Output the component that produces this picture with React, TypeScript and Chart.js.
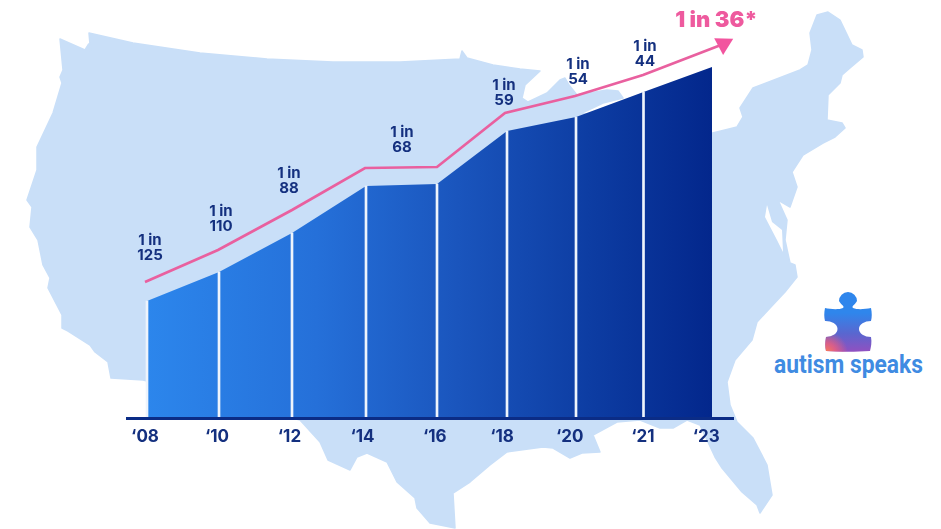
import React, { useEffect, useRef } from "react";
import { Chart, registerables } from "chart.js";

Chart.register(...registerables);

// Year labels on the axis
const years = ["‘08", "‘10", "‘12", "‘14", "‘16", "‘18", "‘20", "‘21", "‘23"];
// Axis stops of the survey years (the source axis is not evenly spaced)
const yearStops = [20, 92, 165, 239, 310, 380, 449, 516.5, 585];
const yearLabelStops = [18, 90, 162.5, 235.5, 307.7, 375, 442.7, 515.8, 579.3];
// Height of the blue area at each year
const areaValues = [117, 146, 185, 232, 234, 287, 301, 326, 351];
// Pink trend line
const trendStops = [18, 91, 165, 238, 310, 378, 448, 516, 596.5];
const trendValues = [136, 168, 208, 250, 251, 305, 322, 343, 374];
// Prevalence callouts
const calloutLines = [
  ["1 in", "125"],
  ["1 in", "110"],
  ["1 in", "88"],
  ["1 in", "68"],
  ["1 in", "59"],
  ["1 in", "54"],
  ["1 in", "44"],
];
const calloutStops = [23, 94, 162, 275, 377, 451, 518];
const calloutValues = [170.5, 199.5, 237.5, 278, 325.5, 346.5, 364.5];
const headline = "1 in 36*";
const headlineStop = 589.5;
const headlineValue = 397.5;

const NAVY = "#14307f";
const PINK = "#e9609f";
const MAP = "#c9dff8";

const mapPath =
  "M60,39 L85,50 L88.7,44 L90.7,53 L89,33 L133,43 L200,53 L267,59 L333,62 L400,62 L460,59 L462,51 L467,58 " +
  "L493,65 L520,69 L540,71 L525,85 L522,98 L528,102 L547,93 L560,80 L565,78 L569,85 L577,95 L607,90 L618,91 L623,98 " +
  "L603,103 L582,113 L650,130 L712.7,133 L737,127 L743,117 L740,108 L753,88 L800,70 L808,65 L812,50 L810,33 L817,15 " +
  "L828,12 L840,20 L852,45 L862,50 L863,57 L850,68 L842,75 L840,83 L828,95 L827,120 L842,123 L845,128 L835,137 L823,143 " +
  "L803,155 L792,172 L797,187 L790,207 L778,200 L787,220 L785,240 L790,263 L795,265 L797,277 L785,292 L770,308 L757,322 " +
  "L752,340 L735,360 L727,382 L730,405 L737,422 L753,438 L767,465 L772,495 L760,513 L757,505 L742,492 L722,468 L715,457 " +
  "L700,425 L687,420 L673,428 L660,428 L640,420 L617,422 L593,435 L600,452 L582,453 L570,458 L553,448 L543,447 L507,452 " +
  "L490,465 L470,482 L453,493 L455,528 L430,523 L417,508 L415,498 L397,482 L387,462 L367,453 L357,457 L350,470 L328,460 " +
  "L320,442 L300,420 L143,380 L111,378 L108,362 L95,352 L90,345 L68,331 L62,328 L62,315 L48,288 L50,278 L43,265 L38,240 " +
  "L30,227 L32,207 L27,200 L37,170 L37,147 L53,113 L62,83 L60,77 L63,70 Z";
const chesapeakePath = "M767,205 L765,217 L777,240 L783,252 L782,230 L772,222 Z";

const puzzlePath =
  "M825,308 C830,309 838,310 843,308 C845,306 841,305 839,301 A9,9 0 1 1 857,301 C855,305 851,306 853,308 " +
  "C858,310 865,309 871,308 C872,313 872,317 871,321 A12,8 0 0 0 871,337 " +
  "C872,342 871,347 870,351 C856,352 840,352 826,351 C825,347 825,342 826,337 " +
  "A12,8 0 0 0 825,321 C824,317 824,313 825,308 Z";

const labelsPlugin = {
  id: "calloutLabels",
  afterDatasetsDraw(chart: any) {
    const { ctx, scales } = chart;
    ctx.save();
    ctx.textAlign = "center";
    ctx.textBaseline = "middle";
    ctx.fillStyle = NAVY;
    ctx.font = "700 15px Inter";
    calloutLines.forEach((lines, i) => {
      const x = scales.x.getPixelForValue(calloutStops[i]);
      const y = scales.y.getPixelForValue(calloutValues[i]);
      ctx.fillText(lines[0], x, y - 7.5);
      ctx.fillText(lines[1], x, y + 7.5);
    });
    ctx.fillStyle = "#ee5a9e";
    ctx.font = "900 22px Inter";
    ctx.fillText(
      headline,
      scales.x.getPixelForValue(headlineStop),
      scales.y.getPixelForValue(headlineValue)
    );
    ctx.restore();
  },
};

function areaGradient(context: any) {
  const { chart } = context;
  if (!chart.chartArea) return "#1e5cc2";
  const x0 = chart.scales.x.getPixelForValue(yearStops[0]);
  const x1 = chart.scales.x.getPixelForValue(yearStops[yearStops.length - 1]);
  const g = chart.ctx.createLinearGradient(x0, 0, x1, 0);
  g.addColorStop(0, "#2c86ec");
  g.addColorStop(0.3, "#2570d9");
  g.addColorStop(0.55, "#1a55bd");
  g.addColorStop(0.78, "#0d3da3");
  g.addColorStop(1, "#03278c");
  return g;
}

export default function App() {
  const ref = useRef<HTMLCanvasElement>(null);
  useEffect(() => {
    const last = trendValues.length - 1;
    const chart = new Chart(ref.current as HTMLCanvasElement, {
      type: "line",
      data: {
        datasets: [
          {
            type: "line",
            label: "Trend",
            data: trendStops.map((x, i) => ({ x, y: trendValues[i] })),
            borderColor: PINK,
            borderWidth: 2.7,
            fill: false,
            order: 1,
            clip: false,
            pointStyle: "triangle",
            pointRadius: (c: any) => (c.dataIndex === last ? 11 : 0),
            pointRotation: 62,
            pointBackgroundColor: "#f2559f",
            pointBorderWidth: 0,
          },
          {
            type: "bar",
            label: "Dividers",
            data: yearStops.slice(0, -1).map((x, i) => ({ x, y: areaValues[i] })),
            backgroundColor: "#eef4fc",
            barThickness: 2,
            order: 2,
          },
          {
            type: "line",
            label: "Area",
            data: yearStops.map((x, i) => ({ x, y: areaValues[i] })),
            borderWidth: 0,
            pointRadius: 0,
            fill: "origin",
            backgroundColor: areaGradient,
            order: 3,
          },
        ],
      } as any,
      options: {
        animation: false,
        responsive: false,
        events: [],
        layout: { padding: { left: 127, right: 208, top: 0, bottom: 0 } },
        plugins: { legend: { display: false }, tooltip: { enabled: false } },
        scales: {
          x: {
            type: "linear",
            min: 0,
            max: 606,
            offset: false,
            grid: { display: false, drawTicks: false },
            border: { display: true, color: "#0b2c86", width: 3, z: 2 },
            afterBuildTicks: (s: any) => {
              s.ticks = yearLabelStops.map((value) => ({ value }));
            },
            afterFit: (s: any) => {
              s.height = 111;
            },
            ticks: {
              autoSkip: false,
              maxRotation: 0,
              padding: 9,
              color: NAVY,
              font: { family: "Inter", weight: "700", size: 17 },
              callback: (_v: any, i: number) => years[i],
            },
          },
          // the arrow head's radius reserves room above the plot, so the top of the scale sits lower
          y: { display: false, min: 0, max: 407 },
        },
      } as any,
      plugins: [labelsPlugin],
    });
    return () => chart.destroy();
  }, []);

  return (
    <div style={{ position: "absolute", left: 0, top: 0, width: 941, height: 529, overflow: "hidden", background: "#fff" }}>
      <svg width={941} height={529} style={{ position: "absolute", left: 0, top: 0 }}>
        <defs>
          <linearGradient id="pz" x1="0" y1="0" x2="0" y2="1">
            <stop offset="0.35" stopColor="#2f86ec" />
            <stop offset="0.7" stopColor="#5a66cf" />
            <stop offset="1" stopColor="#9150c0" />
          </linearGradient>
          <radialGradient id="pzo" gradientUnits="userSpaceOnUse" cx="826" cy="353" r="22">
            <stop offset="0" stopColor="#fb8054" stopOpacity="1" />
            <stop offset="0.45" stopColor="#f0607a" stopOpacity="0.8" />
            <stop offset="1" stopColor="#f0607a" stopOpacity="0" />
          </radialGradient>
        </defs>
        <path d={mapPath} fill={MAP} stroke={MAP} strokeWidth={1.5} strokeLinejoin="round" />
        <path d={chesapeakePath} fill="#fff" />
        <path d={puzzlePath} fill="url(#pz)" />
        <path d={puzzlePath} fill="url(#pzo)" />
        <text x={774} y={373} textLength={149} lengthAdjust="spacingAndGlyphs" fontFamily="Roboto" fontWeight={700} fontSize={25} fill="#3f8be2">
          autism speaks
        </text>
      </svg>
      <canvas ref={ref} width={941} height={529} style={{ position: "absolute", left: 0, top: 0 }} />
    </div>
  );
}
